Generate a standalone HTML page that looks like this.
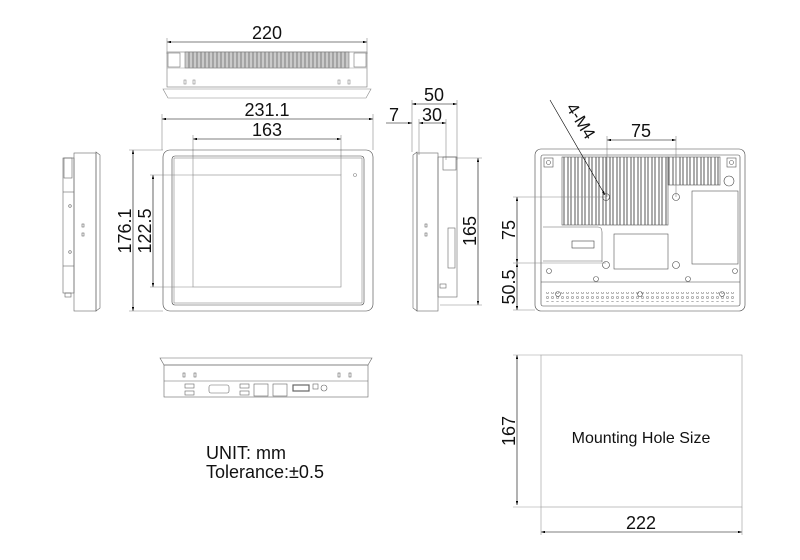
<!DOCTYPE html>
<html><head><meta charset="utf-8"><style>
html,body{margin:0;padding:0;background:#fff;}
svg{display:block;}
text{font-family:"Liberation Sans",sans-serif;fill:#111;}
</style></head><body>
<svg width="800" height="560" viewBox="0 0 800 560" xmlns="http://www.w3.org/2000/svg">
<defs>
<marker id="a" viewBox="0 0 10 6" refX="10" refY="3" markerWidth="8" markerHeight="4" orient="auto-start-reverse"><path d="M0,0 L10,3 L0,6z" fill="#000"/></marker>
<pattern id="fins" width="7" height="20" patternUnits="userSpaceOnUse"><rect x="0" y="0" width="7" height="20" fill="#fff"/><line x1="1" y1="0" x2="1" y2="20" stroke="#444" stroke-width="0.9"/><line x1="4" y1="0" x2="4" y2="20" stroke="#444" stroke-width="0.9"/></pattern>
<pattern id="topfins" width="4" height="20" patternUnits="userSpaceOnUse"><rect width="4" height="20" fill="#fff"/><line x1="1" y1="0" x2="1" y2="20" stroke="#333" stroke-width="0.9"/><line x1="3" y1="0" x2="3" y2="20" stroke="#666" stroke-width="0.7"/></pattern>
<pattern id="dots" width="5" height="5" patternUnits="userSpaceOnUse"><circle cx="2.5" cy="2.5" r="1.2" fill="none" stroke="#666" stroke-width="0.5"/></pattern>
</defs>
<g fill="none" stroke="#000" stroke-width="0.6">
<line x1="167" y1="42" x2="367" y2="42" marker-start="url(#a)" marker-end="url(#a)"/>
<line x1="167" y1="38" x2="167" y2="54" stroke="#888"/><line x1="367" y1="38" x2="367" y2="54" stroke="#888"/>
<rect x="167" y="52" width="200" height="35" stroke="#777"/>
<rect x="185" y="52" width="164" height="16" fill="url(#topfins)" stroke="#777"/>
<rect x="168" y="53" width="12" height="14" stroke="#777"/><rect x="354" y="53" width="12" height="14" stroke="#777"/>
<line x1="167" y1="68" x2="367" y2="68" stroke="#999"/>
<path d="M163,89 L371,89 L366,98 L168,98 Z" stroke="#888"/>
<g stroke="#888"><rect x="184" y="80" width="2" height="4"/><rect x="193" y="80" width="2" height="4"/><rect x="338" y="80" width="2" height="4"/><rect x="348" y="80" width="2" height="4"/></g>
<line x1="162" y1="119" x2="373" y2="119" marker-start="url(#a)" marker-end="url(#a)"/>
<line x1="162" y1="114" x2="162" y2="150" stroke="#888"/><line x1="373" y1="114" x2="373" y2="150" stroke="#888"/>
<line x1="193" y1="139" x2="341" y2="139" marker-start="url(#a)" marker-end="url(#a)"/>
<line x1="193" y1="135" x2="193" y2="175" stroke="#888"/><line x1="341" y1="135" x2="341" y2="175" stroke="#888"/>
<rect x="163" y="150" width="210" height="161" rx="7" stroke="#444"/>
<rect x="172" y="156" width="192" height="149" rx="3" stroke="#444"/>
<rect x="174" y="158" width="188" height="145" stroke="#888"/>
<rect x="193" y="175" width="148" height="112" stroke="#888"/>
<circle cx="355" cy="175" r="1.5" stroke="#888"/>
<line x1="133" y1="150" x2="133" y2="311" marker-start="url(#a)" marker-end="url(#a)"/>
<line x1="129" y1="150" x2="163" y2="150" stroke="#888"/><line x1="129" y1="311" x2="163" y2="311" stroke="#888"/>
<line x1="153" y1="175" x2="153" y2="287" marker-start="url(#a)" marker-end="url(#a)"/>
<line x1="150" y1="175" x2="193" y2="175" stroke="#888"/><line x1="150" y1="287" x2="193" y2="287" stroke="#888"/>
<g stroke="#666">
<path d="M96,152 L100,155 L100,308 L96,311 Z"/>
<rect x="74" y="153" width="22" height="158"/>
<rect x="63" y="158" width="11" height="135"/>
<rect x="64" y="158" width="8" height="20"/>
<line x1="63" y1="192" x2="74" y2="192"/><line x1="63" y1="266" x2="74" y2="266"/>
<circle cx="70" cy="206" r="1.3"/><circle cx="70" cy="252" r="1.3"/>
<rect x="82" y="224" width="2" height="3"/><rect x="82" y="233" width="2" height="3"/>
<rect x="65" y="293" width="6" height="4"/>
</g>
<line x1="412" y1="104" x2="457" y2="104" marker-start="url(#a)" marker-end="url(#a)"/>
<line x1="412" y1="100" x2="412" y2="152" stroke="#888"/><line x1="457" y1="100" x2="457" y2="160" stroke="#888"/>
<line x1="386" y1="123" x2="412" y2="123" marker-end="url(#a)"/>
<line x1="419" y1="123" x2="446" y2="123" marker-start="url(#a)" marker-end="url(#a)"/>
<line x1="419" y1="119" x2="419" y2="155" stroke="#888"/><line x1="446" y1="119" x2="446" y2="160" stroke="#888"/>
<g stroke="#666">
<path d="M417,152 L413,155 L413,308 L417,311 Z"/>
<rect x="417" y="153" width="21" height="158"/>
<rect x="438" y="157" width="19" height="140"/>
<rect x="443" y="157" width="13" height="13"/>
<rect x="448" y="228" width="7" height="40"/>
<rect x="425" y="224" width="2" height="3"/><rect x="425" y="233" width="2" height="3"/>
<rect x="440" y="284" width="6" height="4"/>
</g>
<line x1="478" y1="158" x2="478" y2="305" marker-start="url(#a)" marker-end="url(#a)"/>
<line x1="457" y1="158" x2="482" y2="158" stroke="#888"/><line x1="440" y1="305" x2="482" y2="305" stroke="#888"/>
<rect x="535" y="149" width="210" height="162" rx="6" stroke="#444"/>
<rect x="541" y="155" width="199" height="151" rx="2" stroke="#444"/>
<rect x="562" y="157" width="106" height="68" fill="url(#fins)" stroke="#555"/>
<rect x="668" y="157" width="52" height="28" fill="url(#fins)" stroke="#555"/>
<circle cx="729" cy="181" r="5" stroke="#444"/>
<rect x="544" y="158" width="9" height="9" stroke="#555"/><circle cx="548.5" cy="162.5" r="2" stroke="#555"/>
<rect x="727" y="158" width="9" height="9" stroke="#555"/><circle cx="731.5" cy="162.5" r="2" stroke="#555"/>
<circle cx="606" cy="197" r="3.5" stroke="#444"/><circle cx="676" cy="197" r="3.5" stroke="#444"/>
<circle cx="606" cy="265" r="3.5" stroke="#444"/><circle cx="676" cy="265" r="3.5" stroke="#444"/>
<circle cx="549" cy="271" r="2.5" stroke="#555"/><circle cx="735" cy="271" r="2.5" stroke="#555"/>
<rect x="614" y="234" width="54" height="35" stroke="#555"/>
<rect x="692" y="191" width="46" height="73" stroke="#555"/>
<path d="M543,227 L598,227 Q602,227 602,232 L602,262" stroke="#666"/>
<line x1="543" y1="261" x2="602" y2="261" stroke="#666"/>
<rect x="572" y="241" width="22" height="7" stroke="#444"/>
<line x1="541" y1="282" x2="740" y2="282" stroke="#444"/>
<rect x="545" y="292" width="190" height="10" fill="url(#dots)" stroke="none"/>
<circle cx="558" cy="294" r="2.5" stroke="#555"/><circle cx="640" cy="294" r="2.5" stroke="#555"/><circle cx="722" cy="294" r="2.5" stroke="#555"/>
<circle cx="596" cy="279" r="2.5" stroke="#555"/><circle cx="688" cy="279" r="2.5" stroke="#555"/>
<line x1="607" y1="140" x2="676" y2="140" marker-start="url(#a)" marker-end="url(#a)"/>
<line x1="607" y1="136" x2="607" y2="197" stroke="#888"/><line x1="676" y1="136" x2="676" y2="197" stroke="#888"/>
<line x1="517" y1="197" x2="517" y2="263" marker-start="url(#a)" marker-end="url(#a)"/>
<line x1="517" y1="263" x2="517" y2="310" marker-start="url(#a)" marker-end="url(#a)"/>
<line x1="513" y1="197" x2="606" y2="197" stroke="#888"/><line x1="513" y1="263" x2="606" y2="263" stroke="#888"/><line x1="513" y1="310" x2="535" y2="310" stroke="#888"/>
<line x1="550" y1="100" x2="605" y2="195" marker-end="url(#a)"/>
<g stroke="#666">
<path d="M160,358 L372,358 L368,365 L164,365 Z"/>
<rect x="164" y="365" width="204" height="32"/>
<line x1="164" y1="381" x2="368" y2="381"/>
<rect x="185" y="384" width="9" height="4"/><rect x="185" y="391" width="9" height="4"/>
<rect x="209" y="385" width="20" height="8" rx="2"/>
<rect x="240" y="384" width="9" height="4"/><rect x="240" y="391" width="9" height="4"/>
<rect x="254" y="384" width="14" height="12"/><rect x="273" y="384" width="14" height="12"/>
<rect x="293" y="385" width="16" height="6" stroke-width="1.2"/>
<rect x="313" y="384" width="5" height="5"/><circle cx="324" cy="388" r="3"/>
<rect x="183" y="373" width="2" height="4"/><rect x="194" y="373" width="2" height="4"/>
<rect x="338" y="373" width="2" height="4"/><rect x="349" y="373" width="2" height="4"/>
</g>
<rect x="541" y="355" width="201" height="152" stroke="#999"/>
<line x1="517" y1="355" x2="517" y2="505" marker-start="url(#a)" marker-end="url(#a)"/>
<line x1="513" y1="355" x2="541" y2="355" stroke="#999"/><line x1="513" y1="507" x2="541" y2="507" stroke="#999"/>
<line x1="541" y1="532" x2="742" y2="532" marker-start="url(#a)" marker-end="url(#a)"/>
<line x1="541" y1="507" x2="541" y2="535" stroke="#999"/><line x1="742" y1="507" x2="742" y2="535" stroke="#999"/>
</g>
<g font-size="18">
<text x="267" y="39" text-anchor="middle">220</text>
<text x="267" y="116" text-anchor="middle">231.1</text>
<text x="267" y="136" text-anchor="middle">163</text>
<text x="434" y="101" text-anchor="middle">50</text>
<text x="394" y="121" text-anchor="middle">7</text>
<text x="432" y="121" text-anchor="middle">30</text>
<text x="641" y="137" text-anchor="middle">75</text>
<text transform="translate(131,231) rotate(-90)" text-anchor="middle">176.1</text>
<text transform="translate(151,231) rotate(-90)" text-anchor="middle">122.5</text>
<text transform="translate(476,231) rotate(-90)" text-anchor="middle">165</text>
<text transform="translate(515,230) rotate(-90)" text-anchor="middle">75</text>
<text transform="translate(515,287) rotate(-90)" text-anchor="middle">50.5</text>
<text transform="translate(515,431) rotate(-90)" text-anchor="middle">167</text>
<text x="641" y="529" text-anchor="middle">222</text>
<text transform="translate(576,124) rotate(58)" text-anchor="middle" font-size="17">4-M4</text>
<text x="206" y="459">UNIT: mm</text>
<text x="206" y="478">Tolerance:±0.5</text>
<text x="641" y="443" text-anchor="middle" font-size="16">Mounting Hole Size</text>
</g>
</svg>
</body></html>
